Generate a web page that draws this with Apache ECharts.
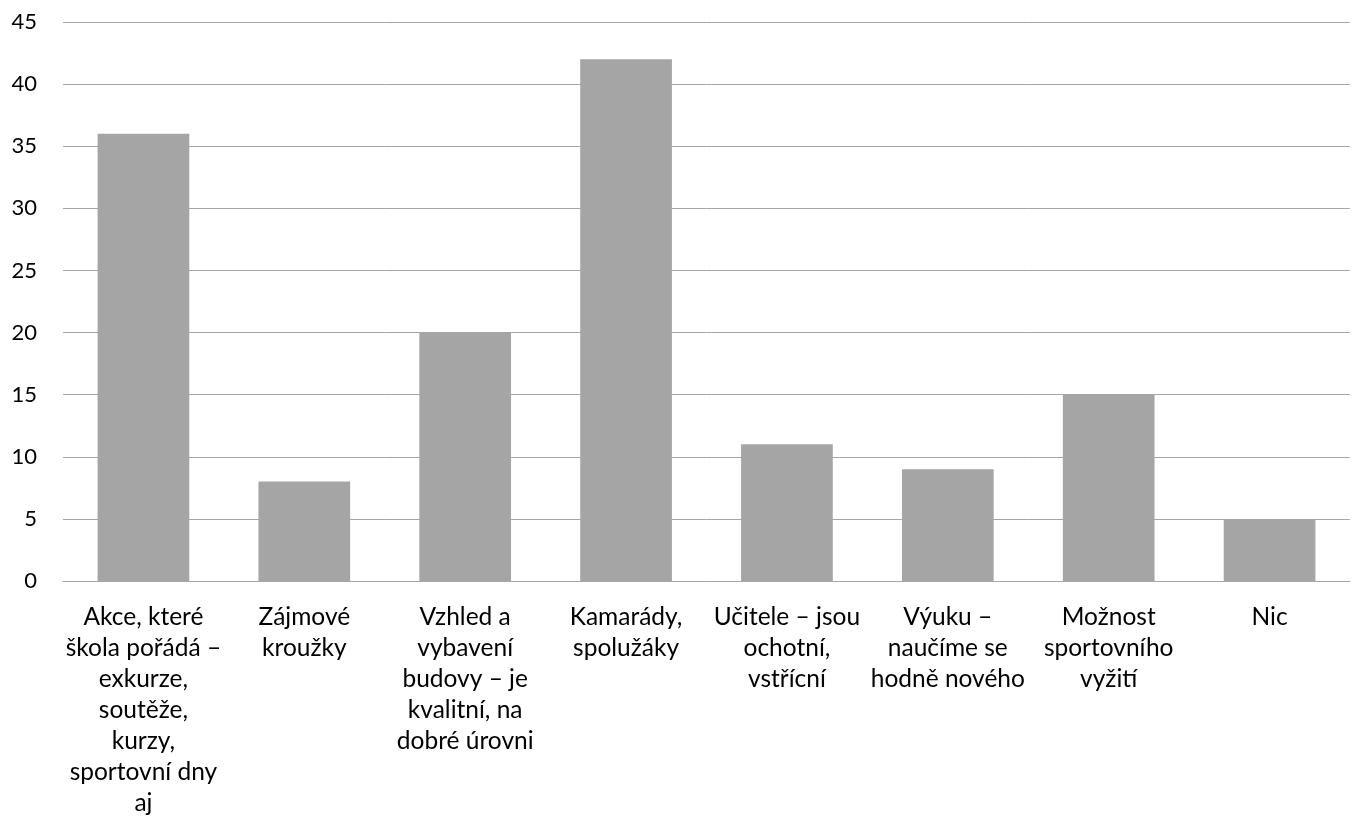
<!DOCTYPE html>
<html><head><meta charset="utf-8">
<script src="https://cdn.jsdelivr.net/npm/echarts@6/dist/echarts.min.js"></script>
<style>html,body{margin:0;padding:0;background:#fff}#c{width:1359px;height:825px}</style>
</head><body><div id="c"></div>
<script>
const categories = [
  "Akce, které\nškola pořádá –\nexkurze,\nsoutěže,\nkurzy,\nsportovní dny\naj",
  "Zájmové\nkroužky",
  "Vzhled a\nvybavení\nbudovy – je\nkvalitní, na\ndobré úrovni",
  "Kamarády,\nspolužáky",
  "Učitele – jsou\nochotní,\nvstřícní",
  "Výuku –\nnaučíme se\nhodně nového",
  "Možnost\nsportovního\nvyžití",
  "Nic"
];
const values = [36, 8, 20, 42, 11, 9, 15, 5];
const yTicks = {min: 0, max: 45, interval: 5};

const chart = echarts.init(document.getElementById('c'), null, {renderer: 'canvas'});
const font = 'Lato, "Open Sans", sans-serif';
chart.setOption({
  animation: false,
  grid: {left: 63, right: 9, top: 22, bottom: 244, containLabel: false},
  xAxis: {
    type: 'category', data: categories,
    axisLine: {lineStyle: {color: '#a6a6a6', width: 1}},
    axisTick: {show: false},
    axisLabel: {interval: 0, color: '#000', fontFamily: font, fontSize: 24.5, lineHeight: 31, margin: 21, align: 'center'}
  },
  yAxis: {
    type: 'value', min: yTicks.min, max: yTicks.max, interval: yTicks.interval,
    axisLine: {show: false}, axisTick: {show: false},
    splitLine: {lineStyle: {color: '#a6a6a6', width: 1}},
    axisLabel: {color: '#000', fontFamily: font, fontSize: 22, margin: 26}
  },
  series: [{
    type: 'bar', data: values, barWidth: '57%',
    itemStyle: {color: '#a5a5a5'}
  }]
});
</script></body></html>
